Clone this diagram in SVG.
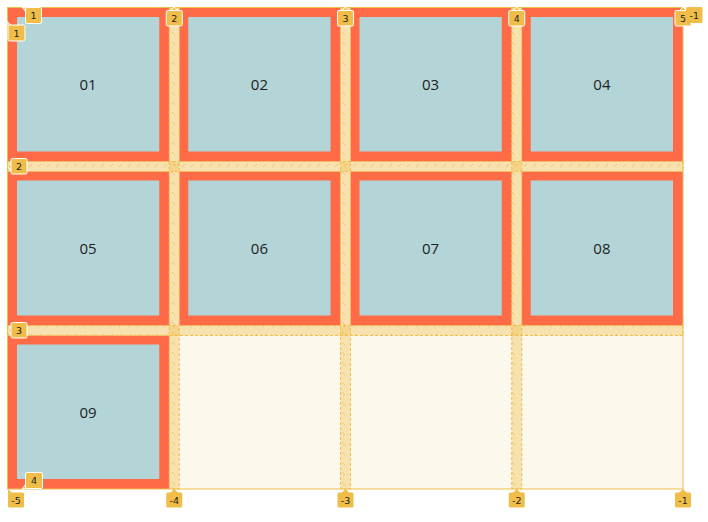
<svg xmlns="http://www.w3.org/2000/svg" width="708" height="522" viewBox="0 0 708 522">
<style>
.item{fill:#FF6B47}
.inner{fill:#B3D5D7}
.lbl{font-family:"Open Sans","Noto Sans",sans-serif;font-size:15px;fill:#222;text-anchor:middle;dominant-baseline:central}
.gap{fill:rgba(240,190,76,0.38);stroke:#EFBE4C;stroke-width:1;stroke-dasharray:3 2}
.badge rect,.badge path{fill:#F0BE48;stroke:#fff;stroke-width:1}
.badge.nb rect,.badge.nb path{stroke:none}
.badge text{font-family:"DejaVu Sans","Liberation Sans",sans-serif;font-size:9.5px;fill:#222;text-anchor:middle;dominant-baseline:central}
</style>
<defs>
<pattern id="hv" width="10" height="10" patternUnits="userSpaceOnUse">
<line x1="2" y1="2" x2="5" y2="5" stroke="#EDB94A" stroke-opacity="0.7" stroke-width="1"/>
</pattern>
<pattern id="hh" width="9" height="10" patternUnits="userSpaceOnUse">
<line x1="2" y1="7" x2="5" y2="4" stroke="#EDB94A" stroke-opacity="0.7" stroke-width="1"/>
</pattern>
</defs>
<rect x="7.5" y="7.5" width="675.5" height="481.5" fill="#FCF8EC"/>
<g id="item-01"><rect class="item" x="8" y="8" width="161.25" height="153.5"/><rect class="inner" x="17" y="17" width="142.25" height="134.5"/><text class="lbl" x="88" y="84">01</text></g>
<g id="item-02"><rect class="item" x="179.25" y="8" width="161.25" height="153.5"/><rect class="inner" x="188.25" y="17" width="142.25" height="134.5"/><text class="lbl" x="259.4" y="84">02</text></g>
<g id="item-03"><rect class="item" x="350.5" y="8" width="161.25" height="153.5"/><rect class="inner" x="359.5" y="17" width="142.25" height="134.5"/><text class="lbl" x="430.6" y="84">03</text></g>
<g id="item-04"><rect class="item" x="521.75" y="8" width="161.25" height="153.5"/><rect class="inner" x="530.75" y="17" width="142.25" height="134.5"/><text class="lbl" x="601.9" y="84">04</text></g>
<g id="item-05"><rect class="item" x="8" y="171.5" width="161.25" height="154"/><rect class="inner" x="17" y="180.5" width="142.25" height="135"/><text class="lbl" x="88" y="248">05</text></g>
<g id="item-06"><rect class="item" x="179.25" y="171.5" width="161.25" height="154"/><rect class="inner" x="188.25" y="180.5" width="142.25" height="135"/><text class="lbl" x="259.4" y="248">06</text></g>
<g id="item-07"><rect class="item" x="350.5" y="171.5" width="161.25" height="154"/><rect class="inner" x="359.5" y="180.5" width="142.25" height="135"/><text class="lbl" x="430.6" y="248">07</text></g>
<g id="item-08"><rect class="item" x="521.75" y="171.5" width="161.25" height="154"/><rect class="inner" x="530.75" y="180.5" width="142.25" height="135"/><text class="lbl" x="601.9" y="248">08</text></g>
<g id="item-09"><rect class="item" x="8" y="335.5" width="161.25" height="153.5"/><rect class="inner" x="17" y="344.5" width="142.25" height="134.5"/><text class="lbl" x="88" y="412">09</text></g>
<g id="connectors">
<g id="gaps">
<rect class="gap" x="169.25" y="8" width="10" height="481"/>
<rect class="gap" x="340.5" y="8" width="10" height="481"/>
<rect class="gap" x="511.75" y="8" width="10" height="481"/>
<rect class="gap" x="8" y="161.5" width="675" height="10"/>
<rect class="gap" x="8" y="325.5" width="675" height="10"/>
<rect x="169.25" y="8" width="10" height="481" fill="url(#hv)"/>
<rect x="340.5" y="8" width="10" height="481" fill="url(#hv)"/>
<rect x="511.75" y="8" width="10" height="481" fill="url(#hv)"/>
<rect x="8" y="161.5" width="675" height="10" fill="url(#hh)"/>
<rect x="8" y="325.5" width="675" height="10" fill="url(#hh)"/>
</g>
<rect x="7.5" y="7.5" width="675.5" height="481.5" fill="none" stroke="#EFBE4C" stroke-width="1"/>
</g>
<g id="badge-col1" class="badge"><path d="M22 7 L26 8 L26 12 Z"/><rect x="25.5" y="7.5" width="16" height="16" rx="1.5"/><text x="33.5" y="15.5">1</text></g>
<g id="badge-row1" class="badge"><path d="M7.5 22 L8 26 L12 26 Z"/><rect x="8" y="25" width="17" height="16" rx="1.5"/><text x="16.5" y="33">1</text></g>
<g id="badge-col2" class="badge"><path d="M170.25 11 L174.25 7 L178.25 11 Z"/><rect x="166.25" y="10.5" width="16" height="15.5" rx="1.5"/><text x="174.25" y="18.3">2</text></g>
<g id="badge-col3" class="badge"><path d="M341.5 11 L345.5 7 L349.5 11 Z"/><rect x="337.5" y="10.5" width="16" height="15.5" rx="1.5"/><text x="345.5" y="18.3">3</text></g>
<g id="badge-col4" class="badge"><path d="M512.75 11 L516.75 7 L520.75 11 Z"/><rect x="508.75" y="10.5" width="16" height="15.5" rx="1.5"/><text x="516.75" y="18.3">4</text></g>
<g id="badge-col5" class="badge"><path d="M679 11 L683 7 L687 11 Z"/><rect x="675" y="10.5" width="16" height="15.5" rx="1.5"/><text x="683" y="18.3">5</text></g>
<g id="badge-colm1top" class="badge nb"><rect x="686" y="7" width="16.5" height="16" rx="1.5"/><text x="694.2" y="15">-1</text></g>
<g id="badge-row2" class="badge"><path d="M11.5 162.5 L8 166.5 L11.5 170.5 Z"/><rect x="11" y="158.5" width="16" height="15.5" rx="1.5"/><text x="19" y="166.3">2</text></g>
<g id="badge-row3" class="badge"><path d="M11.5 326.5 L8 330.5 L11.5 334.5 Z"/><rect x="11" y="322.5" width="16" height="15.5" rx="1.5"/><text x="19" y="330.3">3</text></g>
<g id="badge-row4" class="badge"><path d="M22 489 L26 484 L26 488 Z"/><rect x="25.5" y="472.5" width="17" height="16" rx="1.5"/><text x="34" y="480.5">4</text></g>
<g id="badge-colm5" class="badge nb"><path d="M8 489 L8 493 L12 493 Z"/><rect x="8" y="492.5" width="16" height="15" rx="1.5"/><text x="16" y="500">-5</text></g>
<g id="badge-colm4" class="badge nb"><path d="M170.25 493 L174.25 489 L178.25 493 Z"/><rect x="166.25" y="492.5" width="16" height="15" rx="1.5"/><text x="174.25" y="500">-4</text></g>
<g id="badge-colm3" class="badge nb"><path d="M341.5 493 L345.5 489 L349.5 493 Z"/><rect x="337.5" y="492.5" width="16" height="15" rx="1.5"/><text x="345.5" y="500">-3</text></g>
<g id="badge-colm2" class="badge nb"><path d="M512.75 493 L516.75 489 L520.75 493 Z"/><rect x="508.75" y="492.5" width="16" height="15" rx="1.5"/><text x="516.75" y="500">-2</text></g>
<g id="badge-colm1" class="badge nb"><path d="M679 493 L683 489 L687 493 Z"/><rect x="675" y="492.5" width="16" height="15" rx="1.5"/><text x="683" y="500">-1</text></g>
</svg>
